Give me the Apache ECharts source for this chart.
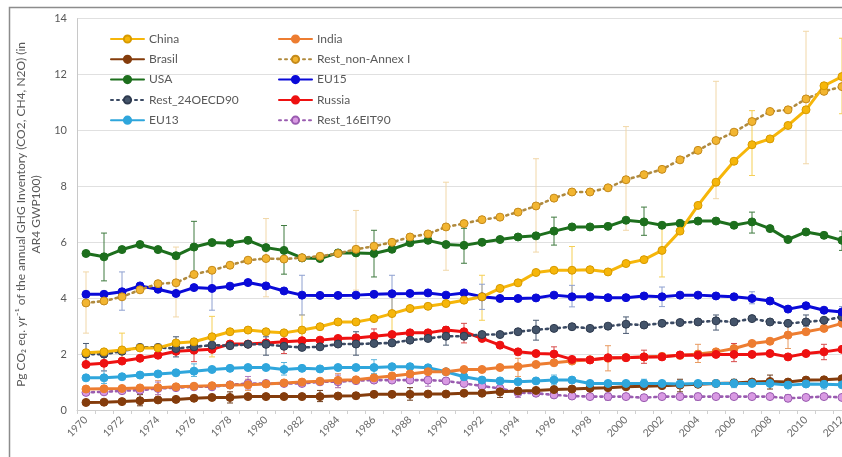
<!DOCTYPE html>
<html>
<head>
<meta charset="utf-8">
<script src="https://cdn.jsdelivr.net/npm/echarts@6/dist/echarts.min.js"></script>
<style>
html, body { margin: 0; padding: 0; background: #fff; overflow: hidden; }
#main { width: 860px; height: 457px; }
</style>
</head>
<body>
<div id="main"></div>
<script>
// years 1970-2012
var years = [];
for (var y = 1970; y <= 2012; y++) years.push(String(y));

var china = [2.05,2.08,2.15,2.22,2.22,2.4,2.44,2.62,2.8,2.86,
	2.8,2.76,2.86,2.98,3.15,3.15,3.27,3.45,3.63,3.71,
	3.81,3.93,4.05,4.35,4.55,4.92,5.0,5.0,5.02,4.94,
	5.24,5.38,5.71,6.4,7.32,8.15,8.9,9.49,9.7,10.18,
	10.74,11.6,11.93];
var india = [0.75,0.76,0.77,0.79,0.8,0.83,0.85,0.87,0.89,0.9,
	0.93,0.97,1.0,1.03,1.06,1.08,1.15,1.22,1.29,1.37,
	1.37,1.45,1.45,1.52,1.55,1.63,1.69,1.75,1.8,1.85,
	1.88,1.9,1.92,1.95,2.0,2.08,2.2,2.38,2.46,2.68,
	2.8,2.92,3.1];
var brasil = [0.27,0.28,0.3,0.33,0.36,0.38,0.42,0.45,0.45,0.48,
	0.48,0.48,0.48,0.48,0.5,0.51,0.56,0.56,0.56,0.57,
	0.57,0.6,0.6,0.65,0.68,0.7,0.73,0.75,0.78,0.8,
	0.83,0.85,0.87,0.89,0.92,0.95,0.97,1.0,1.02,1.0,
	1.07,1.08,1.12];
var restNonAnnex = [3.83,3.9,4.05,4.3,4.52,4.55,4.85,5.0,5.18,5.36,
	5.42,5.4,5.45,5.5,5.6,5.75,5.86,6.0,6.19,6.3,
	6.55,6.67,6.81,6.9,7.08,7.3,7.58,7.8,7.8,7.95,
	8.24,8.42,8.61,8.95,9.29,9.64,9.94,10.32,10.68,10.74,
	11.13,11.4,11.57];
var usa = [5.6,5.48,5.74,5.92,5.74,5.52,5.83,5.99,5.97,6.07,
	5.81,5.71,5.44,5.42,5.62,5.62,5.6,5.75,5.98,6.07,
	5.92,5.89,6.0,6.1,6.19,6.23,6.4,6.55,6.55,6.57,
	6.79,6.73,6.61,6.68,6.76,6.76,6.61,6.73,6.49,6.1,
	6.37,6.25,6.07];
var eu15 = [4.14,4.14,4.23,4.44,4.32,4.17,4.38,4.35,4.43,4.56,
	4.44,4.26,4.11,4.1,4.1,4.11,4.14,4.16,4.17,4.19,
	4.11,4.19,4.05,3.99,3.99,4.01,4.11,4.05,4.05,4.02,
	4.02,4.08,4.05,4.11,4.11,4.08,4.05,3.99,3.9,3.61,
	3.73,3.57,3.51];
var rest24 = [2.0,2.0,2.1,2.24,2.24,2.2,2.26,2.32,2.3,2.35,
	2.35,2.28,2.24,2.26,2.36,2.36,2.38,2.4,2.5,2.56,
	2.64,2.64,2.7,2.7,2.8,2.87,2.92,2.98,2.92,3.0,
	3.07,3.04,3.1,3.13,3.15,3.19,3.15,3.27,3.15,3.1,
	3.15,3.21,3.33];
var russia = [1.63,1.67,1.75,1.85,1.96,2.1,2.14,2.17,2.36,2.36,
	2.4,2.44,2.48,2.5,2.56,2.58,2.64,2.7,2.76,2.76,
	2.86,2.8,2.56,2.32,2.08,2.02,2.0,1.81,1.79,1.87,
	1.87,1.9,1.9,1.97,1.96,1.99,1.99,1.99,2.02,1.9,
	2.02,2.08,2.17];
var eu13 = [1.15,1.15,1.19,1.25,1.29,1.33,1.39,1.45,1.49,1.52,
	1.52,1.45,1.49,1.47,1.52,1.52,1.52,1.55,1.55,1.51,
	1.37,1.19,1.07,1.04,1.01,1.04,1.07,1.07,0.95,0.95,
	0.95,0.95,0.95,0.93,0.95,0.95,0.95,0.95,0.95,0.89,
	0.93,0.92,0.9];
var rest16 = [0.63,0.65,0.69,0.71,0.77,0.8,0.83,0.83,0.9,0.95,
	0.95,0.95,0.95,1.01,1.01,1.05,1.07,1.07,1.07,1.07,
	1.04,0.95,0.86,0.77,0.62,0.6,0.54,0.5,0.48,0.48,
	0.48,0.44,0.48,0.48,0.48,0.48,0.48,0.48,0.48,0.42,
	0.45,0.48,0.45];

// uncertainty ranges [year, low, high]
var errNonAnnex = [['1970',2.75,4.94],['1975',3.33,5.83],['1980',4.05,6.85],['1985',4.29,7.14],['1990',5.0,8.15],
	['1995',5.65,8.99],['2000',6.43,10.14],['2005',7.56,11.76],['2010',8.81,13.55]];
var errChina = [['1972',1.75,2.75],['1977',1.9,3.35],['1982',2.3,3.4],['1987',2.75,4.2],['1992',3.21,4.82],
	['1997',4.05,5.85],['2002',4.76,6.5],['2007',8.39,10.71],['2012',10.6,13.3]];
var errUsa = [['1971',4.62,6.33],['1976',4.9,6.75],['1981',4.86,6.6],['1986',4.76,6.43],['1991',5.25,6.5],
	['1996',5.9,6.9],['2001',6.25,7.26],['2007',6.33,7.08],['2012',5.71,6.4]];
var errEu15 = [['1972',3.57,4.94],['1977',3.57,5.0],['1982',3.4,4.82],['1987',3.5,4.82],['1992',3.6,4.5],
	['1997',3.69,4.46],['2002',3.7,4.4],['2007',3.8,4.23],['2012',3.3,3.7]];
var errRest24 = [['1970',1.67,2.38],['1975',1.9,2.62],['1980',1.96,2.62],['1985',1.96,2.8],['1990',2.32,2.98],
	['1995',2.5,3.21],['2000',2.74,3.33],['2005',2.86,3.4],['2010',3.0,3.4]];
var errRussia = [['1971',1.4,1.9],['1976',1.73,2.38],['1981',2.02,2.5],['1986',2.3,2.9],['1991',2.4,3.1],
	['1996',1.79,2.26],['2001',1.67,2.14],['2006',1.73,2.38],['2011',1.8,2.35]];
var errEu13 = [['1971',0.95,1.4],['1976',1.2,1.65],['1981',1.25,1.7],['1986',1.3,1.8],['1991',1.0,1.4],
	['1996',0.9,1.25],['2001',0.8,1.1],['2006',0.8,1.1],['2011',0.75,1.05]];
var errBrasil = [['1973',0.15,0.55],['1978',0.25,0.65],['1983',0.3,0.7],['1988',0.35,0.8],['1993',0.45,0.85],
	['1998',0.5,0.95],['2003',0.65,1.1],['2008',0.75,1.25]];
var errIndia = [['1974',0.55,1.05],['1979',0.7,1.1],['1984',0.8,1.3],['1989',1.1,1.6],['1994',1.2,1.85],
	['1999',1.4,2.3],['2004',1.7,2.35],['2009',2.2,3.1]];
var errRest16 = [['1974',0.55,1.0],['1979',0.75,1.2],['1984',0.8,1.25],['1989',0.85,1.3],['1994',0.45,0.8],
	['1999',0.35,0.6],['2004',0.35,0.6],['2009',0.3,0.55]];

var yTicks = [0, 2, 4, 6, 8, 10, 12, 14];

var font = 'Lato, "Liberation Sans", sans-serif';

function lineSeries(name, data, color, dotted, fill, border) {
	return {
		name: name,
		type: 'line',
		data: data,
		symbol: 'circle',
		symbolSize: 8,
		z: 3,
		lineStyle: {
			color: color,
			width: dotted ? 2.6 : 3,
			type: dotted ? [2, 4] : 'solid',
			cap: 'round'
		},
		itemStyle: {
			color: fill || color,
			borderColor: border || color,
			borderWidth: 1
		}
	};
}

function errSeries(name, data, color) {
	return {
		name: name + ' err',
		type: 'custom',
		silent: true,
		z: 1,
		encode: { x: 0, y: [1, 2] },
		renderItem: function(params, api) {
			var x = api.value(0);
			var lo = api.coord([x, api.value(1)]);
			var hi = api.coord([x, api.value(2)]);
			var w = 3;
			var st = { stroke: color, lineWidth: 1 };
			return {
				type: 'group',
				children: [
					{ type: 'line', shape: { x1: lo[0], y1: lo[1], x2: hi[0], y2: hi[1] }, style: st },
					{ type: 'line', shape: { x1: lo[0] - w, y1: lo[1], x2: lo[0] + w, y2: lo[1] }, style: st },
					{ type: 'line', shape: { x1: hi[0] - w, y1: hi[1], x2: hi[0] + w, y2: hi[1] }, style: st }
				]
			};
		},
		data: data
	};
}

var chart = echarts.init(document.getElementById('main'));
var option = {
	animation: false,
	backgroundColor: '#fff',
	textStyle: { fontFamily: font },
	grid: { left: 77, right: 9, top: 18.7, bottom: 47 },
	graphic: [{
		type: 'rect',
		shape: { x: 9.5, y: 7.5, width: 900, height: 500 },
		style: { fill: null, stroke: '#8c8c8c', lineWidth: 1.5 },
		z: 100
	}],
	legend: [{
		left: 105, top: 27, orient: 'vertical',
		itemWidth: 33, itemHeight: 9, itemGap: 6.3,
		textStyle: { color: '#595959', fontSize: 12, lineHeight: 14, fontFamily: font },
		data: ['China', 'Brasil', 'USA', 'Rest_24OECD90', 'EU13']
	}, {
		left: 273, top: 27, orient: 'vertical',
		itemWidth: 33, itemHeight: 9, itemGap: 6.3,
		textStyle: { color: '#595959', fontSize: 12, lineHeight: 14, fontFamily: font },
		data: ['India', 'Rest_non-Annex I', 'EU15', 'Russia', 'Rest_16EIT90']
	}],
	xAxis: {
		type: 'category',
		data: years,
		boundaryGap: true,
		axisLine: { lineStyle: { color: '#d0d0d0' } },
		axisTick: { show: true, interval: 0, length: 4, lineStyle: { color: '#d0d0d0' } },
		axisLabel: { interval: 1, rotate: 45, color: '#6a6a6a', fontSize: 10.5, margin: 8 }
	},
	yAxis: {
		type: 'value',
		min: yTicks[0],
		max: yTicks[yTicks.length - 1],
		interval: 2,
		name: 'Pg CO\u2082 eq. yr\u207B\u00B9 of the annual GHG Inventory (CO2, CH4, N2O) (in\nAR4 GWP100)',
		nameLocation: 'middle',
		nameRotate: 90,
		nameGap: 28,
		nameTextStyle: { color: '#595959', fontSize: 12, lineHeight: 15, align: 'center' },
		axisLine: { show: true, lineStyle: { color: '#c8c8c8' } },
		axisTick: { show: false },
		axisLabel: { color: '#595959', fontSize: 11, margin: 10 },
		splitLine: { lineStyle: { color: '#e0e0e0' } }
	},
	series: [
		errSeries('Rest_non-Annex I', errNonAnnex, '#f1d7a8'),
		errSeries('China', errChina, '#f5cf55'),
		errSeries('USA', errUsa, '#3f7a3f'),
		errSeries('EU15', errEu15, '#8ea0d0'),
		errSeries('Rest_24OECD90', errRest24, '#4a5a72'),
		errSeries('Russia', errRussia, '#d84a4a'),
		errSeries('EU13', errEu13, '#5ab4dc'),
		errSeries('Brasil', errBrasil, '#6b3a1a'),
		errSeries('India', errIndia, '#e89a60'),
		errSeries('Rest_16EIT90', errRest16, '#b07cc0'),
		lineSeries('Rest_16EIT90', rest16, '#9a5cb0', true, '#d99ae3', '#9a5cb0'),
		lineSeries('Brasil', brasil, '#843c0c'),
		lineSeries('EU13', eu13, '#2fa6dc'),
		lineSeries('India', india, '#ed7d31'),
		lineSeries('Russia', russia, '#ee1111'),
		lineSeries('Rest_24OECD90', rest24, '#3b4a63', true, '#44546a', '#2f3b4f'),
		lineSeries('EU15', eu15, '#0a0ad8'),
		lineSeries('USA', usa, '#1d6f1d'),
		lineSeries('Rest_non-Annex I', restNonAnnex, '#b08a3e', true, '#f2b531', '#c58a1a'),
		lineSeries('China', china, '#f6b60a', false, '#f6b60a', '#d79a00')
	]
};
chart.setOption(option);
</script>
</body>
</html>
